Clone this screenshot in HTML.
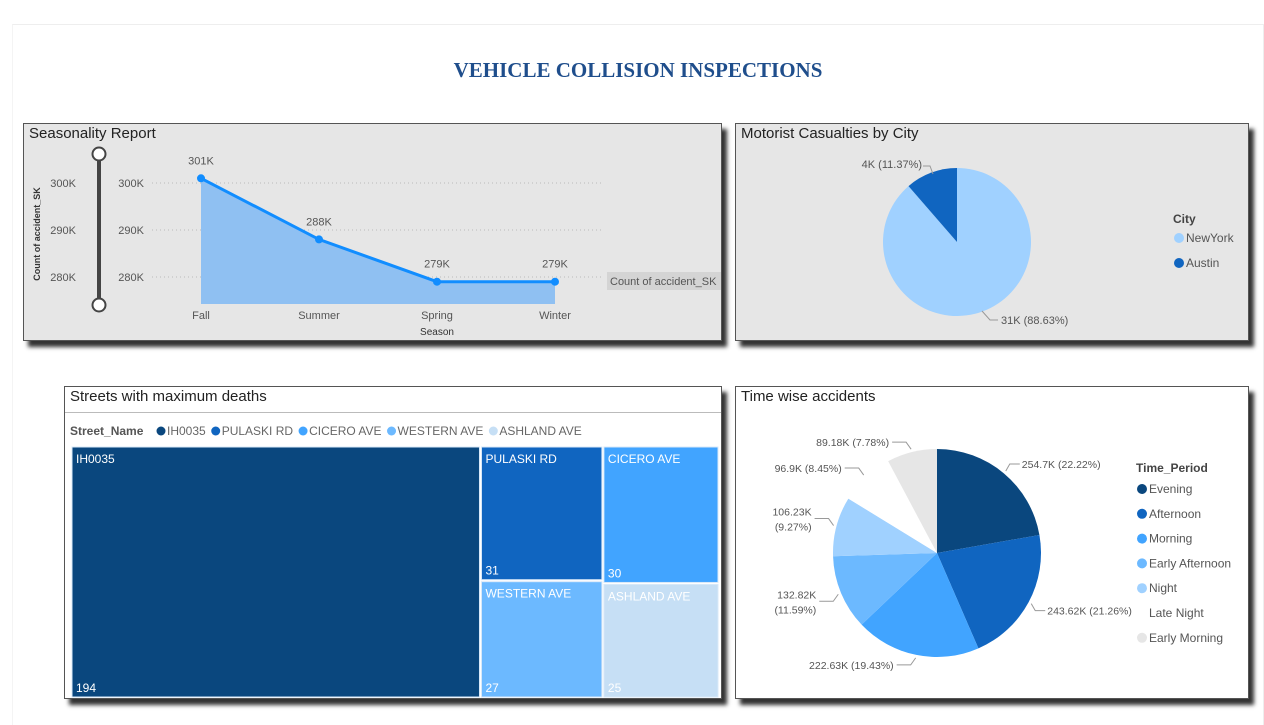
<!DOCTYPE html>
<html><head><meta charset="utf-8">
<style>
body{margin:0;width:1264px;height:720px;background:#fff;font-family:"Liberation Sans",sans-serif;overflow:hidden;position:relative}
.panel{position:absolute;border:1px solid #555;box-shadow:5px 6px 4px #333}
.title{position:absolute;left:5px;top:1px;font-size:15px;color:#222}
svg text{font-family:"Liberation Sans",sans-serif}
</style></head><body>
<div style="position:absolute;left:12px;top:24px;width:1250px;height:700px;border-top:1px solid #eee;border-right:1px solid #eee;border-left:1px solid #f4f4f4"></div>
<div style="position:absolute;left:0;width:1276px;top:58px;text-align:center;font-family:'Liberation Serif',serif;font-weight:bold;font-size:21px;color:#1f4e8c">VEHICLE COLLISION INSPECTIONS</div>

<div class="panel" style="left:23px;top:123px;width:697px;height:216px;background:#e6e6e6">
<div class="title">Seasonality Report</div>
<svg id="line" width="697" height="216" style="position:absolute;left:0;top:0"></svg>
</div>

<div class="panel" style="left:735px;top:123px;width:512px;height:216px;background:#e6e6e6">
<div class="title">Motorist Casualties by City</div>
<svg id="pie1" width="512" height="216" style="position:absolute;left:0;top:0"></svg>
</div>

<div class="panel" style="left:64px;top:386px;width:656px;height:311px;background:#fff">
<div class="title">Streets with maximum deaths</div>
<div style="position:absolute;left:0;top:25px;width:656px;border-top:1px solid #bbb"></div>
<svg id="tree" width="656" height="311" style="position:absolute;left:0;top:0"></svg>
</div>

<div class="panel" style="left:735px;top:386px;width:512px;height:311px;background:#fff">
<div class="title">Time wise accidents</div>
<svg id="pie2" width="512" height="311" style="position:absolute;left:0;top:0"></svg>
</div>

<script>
const NS="http://www.w3.org/2000/svg";
function mk(p,t,a,txt){const e=document.createElementNS(NS,t);for(const k in a)e.setAttribute(k,a[k]);if(txt!==undefined)e.textContent=txt;p.appendChild(e);return e;}

// ---- line chart data
const seasons=["Fall","Summer","Spring","Winter"];
const counts=[301,288,279,279];
const countLabels=["301K","288K","279K","279K"];
const yTicks=[280,290,300];
(function(){
const s=document.getElementById("line");
const xS=i=>177+i*118, yS=v=>59+(300-v)*4.7;
const base=180;
let e=mk(s,"line",{x1:75,y1:30,x2:75,y2:181,stroke:"#444","stroke-width":4});

[30,181].forEach(y=>{let c=mk(s,"circle",{cx:75,cy:y,r:6.5,fill:"#fff",stroke:"#444","stroke-width":2});
});
let t=mk(s,"text",{x:0,y:0,transform:"translate(16,110) rotate(-90)","text-anchor":"middle","font-size":9,"font-weight":"bold",fill:"#333"},"Count of accident_SK");

yTicks.forEach(v=>{
 let a=mk(s,"text",{x:52,y:yS(v)+4,"text-anchor":"end","font-size":11,fill:"#555"},v+"K");
 
 let b=mk(s,"text",{x:120,y:yS(v)+4,"text-anchor":"end","font-size":11,fill:"#555"},v+"K");
 
 let g=mk(s,"line",{x1:128,x2:577,y1:yS(v),y2:yS(v),stroke:"#bbb","stroke-dasharray":"1,3"});
 
});
let d="M"+xS(0)+","+base;counts.forEach((v,i)=>d+=" L"+xS(i)+","+yS(v));d+=" L"+xS(counts.length-1)+","+base+"Z";
let ar=mk(s,"path",{d:d,fill:"#8fc0f2"});
let pl=mk(s,"polyline",{points:counts.map((v,i)=>xS(i)+","+yS(v)).join(" "),fill:"none",stroke:"#118dff","stroke-width":3});

counts.forEach((v,i)=>{
 let c=mk(s,"circle",{cx:xS(i),cy:yS(v),r:4,fill:"#118dff"});
 let l=mk(s,"text",{x:xS(i),y:yS(v)-14,"text-anchor":"middle","font-size":11,fill:"#555"},countLabels[i]);
 let x=mk(s,"text",{x:xS(i),y:195,"text-anchor":"middle","font-size":11,fill:"#555"},seasons[i]);
});
let xt=mk(s,"text",{x:413,y:211,"text-anchor":"middle","font-size":10,fill:"#333"},"Season");
let lb=mk(s,"rect",{x:583,y:148,width:114,height:18,fill:"#d4d4d4"});
let lt=mk(s,"text",{x:586,y:161,"font-size":11,fill:"#555"},"Count of accident_SK");
})();

function slices(s,cx,cy,r,vals,cols,name){
 const tot=vals.reduce((a,b)=>a+b,0);let a=0;const out=[];
 vals.forEach((v,i)=>{const a0=a,a1=a+v/tot*2*Math.PI;a=a1;
  const p=t=>[cx+r*Math.sin(t),cy-r*Math.cos(t)];const [x0,y0]=p(a0),[x1,y1]=p(a1);
  let e=mk(s,"path",{d:`M${cx},${cy} L${x0},${y0} A${r},${r} 0 ${a1-a0>Math.PI?1:0} 1 ${x1},${y1}Z`,fill:cols[i]});
  out.push((a0+a1)/2);});
 return out;
}
// ---- city pie
const cities=["NewYork","Austin"];
const cityVals=[88.63,11.37];
const cityLabels=["31K (88.63%)","4K (11.37%)"];
const cityCols=["#a0d1ff","#1065c0"];
(function(){
const s=document.getElementById("pie1");
slices(s,221,118,74,cityVals,cityCols,"city-slice");
let a=mk(s,"polyline",{points:"187,42 194,42 197,50",fill:"none",stroke:"#999"});
let t=mk(s,"text",{x:186,y:44,"text-anchor":"end","font-size":11,fill:"#555"},cityLabels[1]);
let b=mk(s,"polyline",{points:"246,187 254,196 262,196",fill:"none",stroke:"#999"});
let u=mk(s,"text",{x:265,y:200,"font-size":11,fill:"#555"},cityLabels[0]);
let h=mk(s,"text",{x:437,y:99,"font-size":12,"font-weight":"bold",fill:"#444"},"City");
cities.forEach((c,i)=>{let d=mk(s,"circle",{cx:443,cy:114+i*25,r:5,fill:cityCols[i]});
 let l=mk(s,"text",{x:450,y:118+i*25,"font-size":12,fill:"#555"},c);});
})();

// ---- treemap
const streets=["IH0035","PULASKI RD","CICERO AVE","WESTERN AVE","ASHLAND AVE"];
const deaths=[194,31,30,27,25];
const streetCols=["#0a477e","#1065c0","#41a4ff","#6cb9ff","#c6dff5"];
(function(){
const s=document.getElementById("tree");
let h=mk(s,"text",{x:5,y:48,"font-size":12,"font-weight":"bold",fill:"#555"},"Street_Name");
let lx=91;streets.forEach((n,i)=>{let d=mk(s,"circle",{cx:lx+5,cy:44,r:4.5,fill:streetCols[i]});
 let l=mk(s,"text",{x:lx+11,y:48,"font-size":12,fill:"#666"},n);
 lx+=11+l.getComputedTextLength()+5;});
const X=6,Y=59,W=648,H=252;const tot=deaths.reduce((a,b)=>a+b,0);
const rects=[];const w0=W*deaths[0]/tot;rects.push([X,Y,w0,H]);
const rest=tot-deaths[0];const cL=deaths[1]+deaths[3],cR=deaths[2]+deaths[4];
const wl=(W-w0)*cL/rest,wr=W-w0-wl;const hl=H*deaths[1]/cL,hr=H*deaths[2]/cR;
rects[1]=[X+w0,Y,wl,hl];rects[3]=[X+w0,Y+hl,wl,H-hl];rects[2]=[X+w0+wl,Y,wr,hr];rects[4]=[X+w0+wl,Y+hr,wr,H-hr];
streets.forEach((n,i)=>{const [x,y,w,hh]=rects[i];
 let r=mk(s,"rect",{x:x+1,y:y+1,width:w-2,height:hh-2,fill:streetCols[i],stroke:"#d8e8f8","stroke-width":1});
 let a=mk(s,"text",{x:x+5,y:y+17,"font-size":12,fill:"#fff"},n);
 let b=mk(s,"text",{x:x+5,y:y+hh-6,"font-size":12,fill:"#fff"},deaths[i]);});
})();

// ---- time pie
const periods=["Evening","Afternoon","Morning","Early Afternoon","Night","Late Night","Early Morning"];
const periodVals=[254.7,243.62,222.63,132.82,106.23,96.9,89.18];
const periodLabels=["254.7K (22.22%)","243.62K (21.26%)","222.63K (19.43%)","132.82K|(11.59%)","106.23K|(9.27%)","96.9K (8.45%)","89.18K (7.78%)"];
const periodCols=["#0a477e","#1065c0","#41a4ff","#6cb9ff","#a0d1ff","#ffffff","#e6e6e6"];
(function(){
const s=document.getElementById("pie2");
const cx=201,cy=166,r=104;
const mids=slices(s,cx,cy,r,periodVals,periodCols,"time-slice");
mids.forEach((m,i)=>{
 const ex=cx+(r+3)*Math.sin(m),ey=cy-(r+3)*Math.cos(m);const right=Math.sin(m)>0;
 const ex2=ex+(right?4:-5),ey2=ey+(Math.cos(m)>0?-7:7);const ex3=ex2+(right?10:-14);
 let l=mk(s,"polyline",{points:`${ex},${ey} ${ex2},${ey2} ${ex3},${ey2}`,fill:"none",stroke:"#999"});
 const parts=periodLabels[i].split("|");
 parts.forEach((p,j)=>{let t=mk(s,"text",{x:ex3+(right?2:-3),y:ey2+4+j*15-(parts.length-1)*7,"text-anchor":right?"start":"end","font-size":10.5,fill:"#555"},p);
  });
});
let h=mk(s,"text",{x:400,y:85,"font-size":12,"font-weight":"bold",fill:"#444"},"Time_Period");
periods.forEach((p,i)=>{let d=mk(s,"circle",{cx:406,cy:102+i*24.8,r:5,fill:periodCols[i]});
 let l=mk(s,"text",{x:413,y:106+i*24.8,"font-size":12,fill:"#555"},p);});
})();
</script>
</body></html>
